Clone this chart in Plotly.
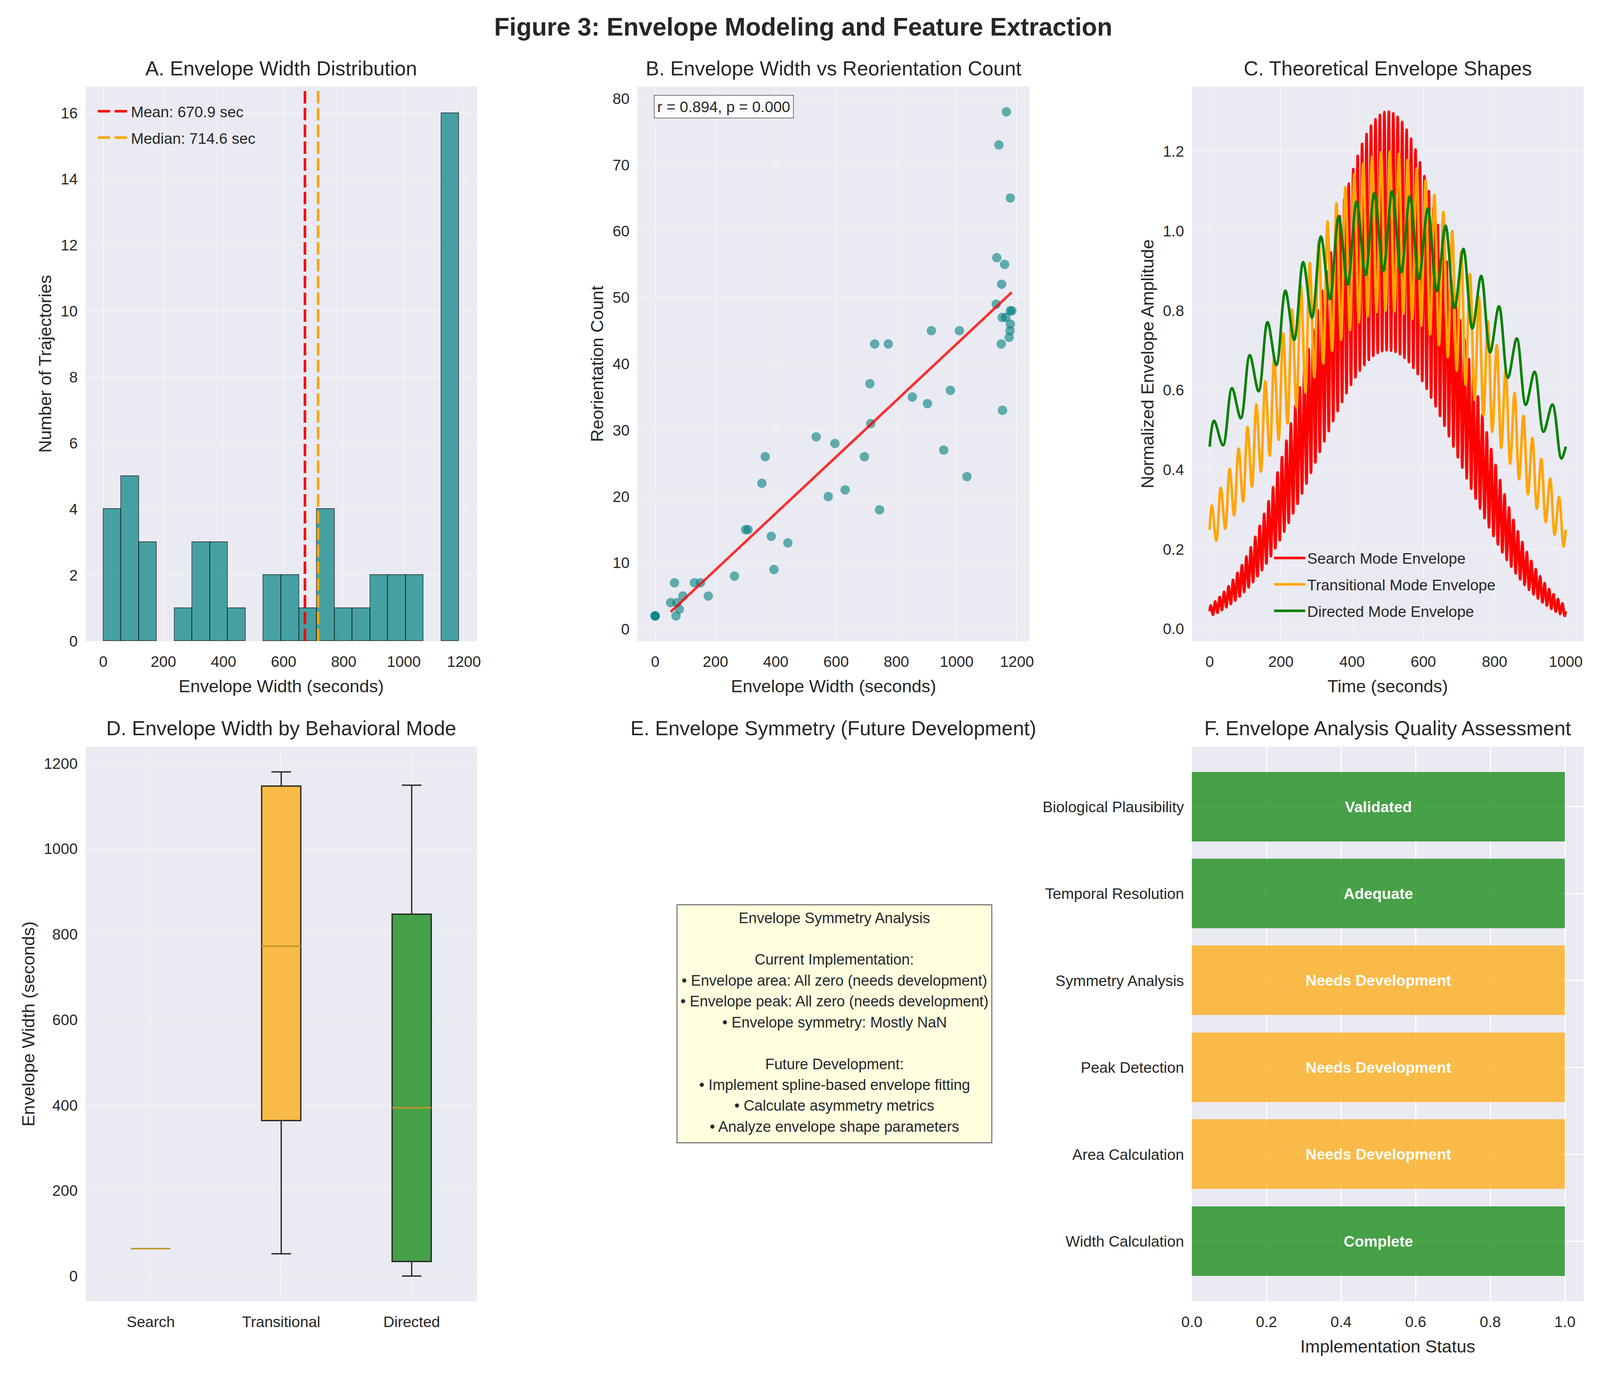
import plotly.graph_objects as go

# ---- panel A / B : envelope width per trajectory and reorientation count
envelope_width = [0, 0, 0, 51, 64, 69, 72, 80, 92, 130, 150, 176, 263, 300, 308, 354, 365, 385, 394, 440,
                  534, 574, 596, 630, 694, 712, 715, 728, 744, 773, 853, 903, 916, 957, 979, 1009, 1034,
                  1131, 1133, 1140, 1148, 1149, 1151, 1152, 1159, 1163, 1165, 1174, 1177, 1178, 1178, 1178, 1183]
reorientation_count = [2, 2, 2, 4, 7, 2, 4, 3, 5, 7, 7, 5, 8, 15, 15, 22, 26, 14, 9, 13,
                       29, 20, 28, 21, 26, 37, 31, 43, 18, 43, 35, 34, 45, 27, 36, 45, 23,
                       49, 56, 73, 43, 52, 47, 33, 55, 47, 78, 44, 45, 65, 48, 46, 48]
hist_start = 0
hist_end = 1184
hist_bin = 59.2
mean_width = 670.9
median_width = 714.6

fit_x = [51, 1183]
fit_y = [2.6, 50.8]
r_value = 0.894
p_value = 0.000

# ---- panel C : envelope curves (turning points)
search_t = [0,
            3.1, 9.4, 15.6, 21.9, 28.1, 34.4, 40.6, 46.9,
            53.1, 59.4, 65.6, 71.9, 78.1, 84.4, 90.6, 96.9,
            103.1, 109.4, 115.6, 121.9, 128.1, 134.4, 140.6, 146.9,
            153.1, 159.4, 165.6, 171.9, 178.1, 184.4, 190.6, 196.9,
            203.1, 209.4, 215.6, 221.9, 228.1, 234.4, 240.6, 246.9,
            253.1, 259.4, 265.6, 271.9, 278.1, 284.4, 290.6, 296.9,
            303.1, 309.4, 315.6, 321.9, 328.1, 334.4, 340.6, 346.9,
            353.1, 359.4, 365.6, 371.9, 378.1, 384.4, 390.6, 396.9,
            403.1, 409.4, 415.6, 421.9, 428.1, 434.4, 440.6, 446.9,
            453.1, 459.4, 465.6, 471.9, 478.1, 484.4, 490.6, 496.9,
            503.1, 509.4, 515.6, 521.9, 528.1, 534.4, 540.6, 546.9,
            553.1, 559.4, 565.6, 571.9, 578.1, 584.4, 590.6, 596.9,
            603.1, 609.4, 615.6, 621.9, 628.1, 634.4, 640.6, 646.9,
            653.1, 659.4, 665.6, 671.9, 678.1, 684.4, 690.6, 696.9,
            703.1, 709.4, 715.6, 721.9, 728.1, 734.4, 740.6, 746.9,
            753.1, 759.4, 765.6, 771.9, 778.1, 784.4, 790.6, 796.9,
            803.1, 809.4, 815.6, 821.9, 828.1, 834.4, 840.6, 846.9,
            853.1, 859.4, 865.6, 871.9, 878.1, 884.4, 890.6, 896.9,
            903.1, 909.4, 915.6, 921.9, 928.1, 934.4, 940.6, 946.9,
            953.1, 959.4, 965.6, 971.9, 978.1, 984.4, 990.6, 996.9,
            1000]
search_amp = [0.044,
              0.059, 0.035, 0.069, 0.040, 0.080, 0.047, 0.093, 0.054,
              0.107, 0.062, 0.123, 0.071, 0.141, 0.081, 0.160, 0.092,
              0.182, 0.104, 0.205, 0.117, 0.231, 0.132, 0.259, 0.147,
              0.289, 0.164, 0.321, 0.182, 0.356, 0.202, 0.393, 0.222,
              0.432, 0.244, 0.473, 0.266, 0.516, 0.290, 0.561, 0.314,
              0.607, 0.340, 0.654, 0.365, 0.703, 0.392, 0.752, 0.418,
              0.801, 0.445, 0.850, 0.471, 0.899, 0.497, 0.946, 0.522,
              0.993, 0.547, 1.037, 0.570, 1.080, 0.592, 1.119, 0.613,
              1.156, 0.632, 1.189, 0.649, 1.219, 0.663, 1.244, 0.676,
              1.265, 0.686, 1.281, 0.693, 1.292, 0.698, 1.299, 0.700,
              1.300, 0.699, 1.296, 0.696, 1.287, 0.690, 1.274, 0.681,
              1.255, 0.670, 1.232, 0.656, 1.205, 0.640, 1.173, 0.623,
              1.138, 0.603, 1.100, 0.581, 1.059, 0.559, 1.015, 0.535,
              0.970, 0.510, 0.923, 0.484, 0.874, 0.458, 0.825, 0.431,
              0.776, 0.405, 0.727, 0.378, 0.678, 0.352, 0.630, 0.327,
              0.584, 0.302, 0.538, 0.278, 0.494, 0.255, 0.452, 0.233,
              0.412, 0.212, 0.374, 0.192, 0.338, 0.173, 0.305, 0.156,
              0.274, 0.139, 0.245, 0.124, 0.218, 0.110, 0.193, 0.098,
              0.171, 0.086, 0.150, 0.076, 0.132, 0.066, 0.115, 0.058,
              0.100, 0.050, 0.087, 0.043, 0.075, 0.037, 0.064, 0.032,
              0.044]

transitional_t = [0,
                  6.2, 18.8, 31.2, 43.8, 56.2, 68.8, 81.2, 93.8,
                  106.2, 118.8, 131.2, 143.8, 156.2, 168.8, 181.2, 193.8,
                  206.2, 218.8, 231.2, 243.8, 256.2, 268.8, 281.2, 293.8,
                  306.2, 318.8, 331.2, 343.8, 356.2, 368.8, 381.2, 393.8,
                  406.2, 418.8, 431.2, 443.8, 456.2, 468.8, 481.2, 493.8,
                  506.2, 518.8, 531.2, 543.8, 556.2, 568.8, 581.2, 593.8,
                  606.2, 618.8, 631.2, 643.8, 656.2, 668.8, 681.2, 693.8,
                  706.2, 718.8, 731.2, 743.8, 756.2, 768.8, 781.2, 793.8,
                  806.2, 818.8, 831.2, 843.8, 856.2, 868.8, 881.2, 893.8,
                  906.2, 918.8, 931.2, 943.8, 956.2, 968.8, 981.2, 993.8,
                  1000]
transitional_amp = [0.249,
                    0.310, 0.221, 0.354, 0.252, 0.402, 0.285, 0.453, 0.320,
                    0.507, 0.357, 0.564, 0.395, 0.622, 0.435, 0.682, 0.475,
                    0.743, 0.516, 0.803, 0.556, 0.863, 0.594, 0.920, 0.632,
                    0.974, 0.667, 1.024, 0.699, 1.070, 0.727, 1.110, 0.751,
                    1.143, 0.771, 1.169, 0.786, 1.187, 0.796, 1.198, 0.800,
                    1.200, 0.798, 1.194, 0.792, 1.179, 0.779, 1.157, 0.762,
                    1.127, 0.740, 1.091, 0.713, 1.048, 0.683, 1.000, 0.649,
                    0.947, 0.613, 0.892, 0.575, 0.833, 0.536, 0.773, 0.495,
                    0.713, 0.455, 0.652, 0.415, 0.593, 0.376, 0.535, 0.338,
                    0.480, 0.302, 0.427, 0.268, 0.378, 0.236, 0.331, 0.207,
                    0.249]

directed_t = [0,
              12.5, 37.5, 62.5, 87.5, 112.5, 137.5, 162.5, 187.5,
              212.5, 237.5, 262.5, 287.5, 312.5, 337.5, 362.5, 387.5,
              412.5, 437.5, 462.5, 487.5, 512.5, 537.5, 562.5, 587.5,
              612.5, 637.5, 662.5, 687.5, 712.5, 737.5, 762.5, 787.5,
              812.5, 837.5, 862.5, 887.5, 912.5, 937.5, 962.5, 987.5,
              1000]
directed_amp = [0.458,
                0.523, 0.461, 0.605, 0.529, 0.688, 0.597, 0.771, 0.663,
                0.850, 0.726, 0.922, 0.782, 0.986, 0.829, 1.037, 0.865,
                1.074, 0.889, 1.095, 0.900, 1.100, 0.896, 1.087, 0.879,
                1.057, 0.848, 1.013, 0.806, 0.955, 0.755, 0.887, 0.695,
                0.811, 0.631, 0.730, 0.563, 0.646, 0.495, 0.564, 0.428,
                0.458]

# ---- panel D : box statistics per behavioral mode
modes = ["Search", "Transitional", "Directed"]
box_q1 = [64, 364, 34]
box_median = [64, 772, 394]
box_q3 = [64, 1147, 847]
box_low = [64, 52, 0]
box_high = [64, 1180, 1149]

# ---- panel E : text
symmetry_lines = [
    "Envelope Symmetry Analysis",
    "",
    "Current Implementation:",
    "• Envelope area: All zero (needs development)",
    "• Envelope peak: All zero (needs development)",
    "• Envelope symmetry: Mostly NaN",
    "",
    "Future Development:",
    "• Implement spline-based envelope fitting",
    "• Calculate asymmetry metrics",
    "• Analyze envelope shape parameters",
]

# ---- panel F : quality assessment
components = ["Width Calculation", "Area Calculation", "Peak Detection",
              "Symmetry Analysis", "Temporal Resolution", "Biological Plausibility"]
component_status = ["Complete", "Needs Development", "Needs Development",
                    "Needs Development", "Adequate", "Validated"]
component_score = [1, 1, 1, 1, 1, 1]

# figure fills the browser window (autosize); sizes tuned for a ~4100 px wide page
FONT = "Liberation Sans, Arial, sans-serif"
INK = "#262626"
TEAL = "rgba(0,128,128,0.7)"
ORANGE_A = "rgba(255,165,0,0.7)"
GREEN_A = "rgba(0,128,0,0.7)"
RED_A = "rgba(255,0,0,0.7)"
DASH = "32px,11px"

F_TICK = 39
F_BOX = 38
F_LABEL = 45
F_TITLE = 51.5
F_SUPER = 64
LW = 6.5

col_a = [0.0455, 0.2934]
col_b = [0.3950, 0.6435]
col_c = [0.7462, 0.9943]
row_1 = [0.5330, 0.9389]
row_2 = [0.0498, 0.4557]

fig = go.Figure()

# A
fig.add_trace(go.Histogram(
    x=envelope_width, xaxis="x", yaxis="y",
    xbins=dict(start=hist_start, end=hist_end, size=hist_bin), autobinx=False,
    marker=dict(color=TEAL, line=dict(color="rgba(0,0,0,0.7)", width=1.6)),
    showlegend=False))
fig.add_shape(type="line", xref="x", yref="y domain", x0=mean_width, x1=mean_width, y0=0, y1=1,
              line=dict(color="red", width=LW, dash=DASH), legendgroup="mean",
              name=f"Mean: {mean_width:.1f} sec", showlegend=True, legend="legend")
fig.add_shape(type="line", xref="x", yref="y domain", x0=median_width, x1=median_width, y0=0, y1=1,
              line=dict(color="orange", width=LW, dash=DASH), legendgroup="median",
              name=f"Median: {median_width:.1f} sec", showlegend=True, legend="legend")

# B
fig.add_trace(go.Scatter(
    x=envelope_width, y=reorientation_count, mode="markers", xaxis="x2", yaxis="y2",
    marker=dict(color="teal", size=24, opacity=0.6, line=dict(width=0)), showlegend=False))
fig.add_trace(go.Scatter(
    x=fit_x, y=fit_y, mode="lines", xaxis="x2", yaxis="y2",
    line=dict(color="rgba(255,0,0,0.8)", width=LW), showlegend=False))

# C
for t, amp, color, label in [(search_t, search_amp, "red", "Search Mode Envelope"),
                             (transitional_t, transitional_amp, "orange", "Transitional Mode Envelope"),
                             (directed_t, directed_amp, "green", "Directed Mode Envelope")]:
    fig.add_trace(go.Scatter(
        x=t, y=amp, mode="lines", name=label, xaxis="x3", yaxis="y3", legend="legend2",
        legendgroup=label,
        line=dict(color=color, width=LW, shape="spline", smoothing=1.0, simplify=False)))

# D
box_width = 0.3
box_fill = [RED_A, ORANGE_A, GREEN_A]
for i, mode in enumerate(modes):
    pos = i + 1
    fig.add_trace(go.Box(
        x=[pos], q1=[box_q1[i]], median=[box_median[i]], q3=[box_q3[i]],
        lowerfence=[box_low[i]], upperfence=[box_high[i]],
        xaxis="x4", yaxis="y4", width=box_width, whiskerwidth=0.5,
        fillcolor=box_fill[i], line=dict(color="#222222", width=3.2),
        boxpoints=False, showlegend=False, name=mode))
    fig.add_trace(go.Scatter(
        x=[pos - box_width / 2, pos + box_width / 2], y=[box_median[i], box_median[i]],
        mode="lines", xaxis="x4", yaxis="y4",
        line=dict(color="#C09A30", width=4), showlegend=False, hoverinfo="skip"))

# F
status_color = {"Complete": GREEN_A, "Adequate": GREEN_A, "Validated": GREEN_A,
                "Needs Development": ORANGE_A}
fig.add_trace(go.Bar(
    x=component_score, y=components, orientation="h", xaxis="x5", yaxis="y5",
    width=0.8, marker=dict(color=[status_color[s] for s in component_status], line=dict(width=0)),
    text=component_status, textposition="inside", insidetextanchor="middle",
    textfont=dict(family=FONT, size=F_TICK, color="white", weight="bold"),
    constraintext="none", showlegend=False))

axis_common = dict(showline=False, ticks="", zeroline=False, gridwidth=3.2,
                   gridcolor="rgba(255,255,255,0.3)",
                   tickfont=dict(family=FONT, size=F_TICK, color=INK),
                   title_font=dict(family=FONT, size=F_LABEL, color=INK))


def xax(domain, anchor, title, **kw):
    d = dict(axis_common, domain=domain, anchor=anchor, ticklabelstandoff=26,
             title=dict(text=title, standoff=26))
    d.update(kw)
    return d


def yax(domain, anchor, title, **kw):
    d = dict(axis_common, domain=domain, anchor=anchor, ticklabelstandoff=19,
             title=dict(text=title, standoff=9))
    d.update(kw)
    return d


legend_style = dict(xanchor="left", yanchor="top", bgcolor="rgba(0,0,0,0)", tracegroupgap=14,
                    font=dict(family=FONT, size=F_TICK, color=INK), itemwidth=80)

fig.update_layout(
    autosize=True,
    margin=dict(l=0, r=0, t=0, b=0),
    paper_bgcolor="white", plot_bgcolor="#EAEAF2",
    font=dict(family=FONT, color=INK),
    bargap=0, boxmode="overlay",
    xaxis=xax(col_a, "y", "Envelope Width (seconds)", range=[-59.2, 1243.2], dtick=200),
    yaxis=yax(row_1, "x", "Number of Trajectories", range=[0, 16.8], dtick=2),
    xaxis2=xax(col_b, "y2", "Envelope Width (seconds)", range=[-59.2, 1242.2], dtick=200),
    yaxis2=yax(row_1, "x2", "Reorientation Count", range=[-1.8, 81.8], dtick=10),
    xaxis3=xax(col_c, "y3", "Time (seconds)", range=[-50, 1050], dtick=200),
    yaxis3=yax(row_1, "x3", "Normalized Envelope Amplitude", range=[-0.031, 1.363],
               dtick=0.2, tickformat=".1f"),
    xaxis4=xax(col_a, "y4", "", range=[0.5, 3.5], tickvals=[1, 2, 3], ticktext=modes),
    yaxis4=yax(row_2, "x4", "Envelope Width (seconds)", range=[-59, 1239], dtick=200),
    xaxis5=xax(col_c, "y5", "Implementation Status", range=[0, 1.05], dtick=0.2,
               tickformat=".1f", gridcolor="white"),
    yaxis5=yax(row_2, "x5", "", range=[-0.69, 5.69], type="category", gridcolor="white"),
    legend=dict(legend_style, x=0.052, y=0.930),
    legend2=dict(legend_style, x=0.797, y=0.603),
)

# titles
fig.add_annotation(text="<b>Figure 3: Envelope Modeling and Feature Extraction</b>",
                   xref="paper", yref="paper", x=0.5, y=0.9825, xanchor="center", yanchor="middle",
                   showarrow=False, font=dict(family=FONT, size=F_SUPER, color=INK))
panel_titles = [("A. Envelope Width Distribution", col_a, row_1),
                ("B. Envelope Width vs Reorientation Count", col_b, row_1),
                ("C. Theoretical Envelope Shapes", col_c, row_1),
                ("D. Envelope Width by Behavioral Mode", col_a, row_2),
                ("E. Envelope Symmetry (Future Development)", col_b, row_2),
                ("F. Envelope Analysis Quality Assessment", col_c, row_2)]
for text, cx, ry in panel_titles:
    fig.add_annotation(text=text, xref="paper", yref="paper", x=(cx[0] + cx[1]) / 2, y=ry[1],
                       xanchor="center", yanchor="bottom", yshift=16, showarrow=False,
                       font=dict(family=FONT, size=F_TITLE, color=INK))

# correlation box in B
fig.add_annotation(text=f"r = {r_value:.3f}, p = {p_value:.3f}", xref="x2 domain", yref="y2 domain",
                   x=0.042, y=0.985, xanchor="left", yanchor="top", showarrow=False,
                   bgcolor="rgba(255,255,255,0.8)", bordercolor="#555555", borderwidth=1.6,
                   borderpad=7, font=dict(family=FONT, size=F_TICK, color=INK))

# E text box
fig.add_shape(type="rect", xref="paper", yref="paper", x0=0.4201, x1=0.6195, y0=0.1658, y1=0.3400,
              fillcolor="#FFFFE0", line=dict(color="#666666", width=2.4), layer="below")
first_line_y = 0.3304
line_step = 0.01528
for i, line in enumerate(symmetry_lines):
    if not line:
        continue
    fig.add_annotation(text=line, xref="paper", yref="paper", x=0.5198, y=first_line_y - i * line_step,
                       xanchor="center", yanchor="middle", showarrow=False,
                       font=dict(family=FONT, size=F_BOX, color=INK))

fig.write_html("out.html")
